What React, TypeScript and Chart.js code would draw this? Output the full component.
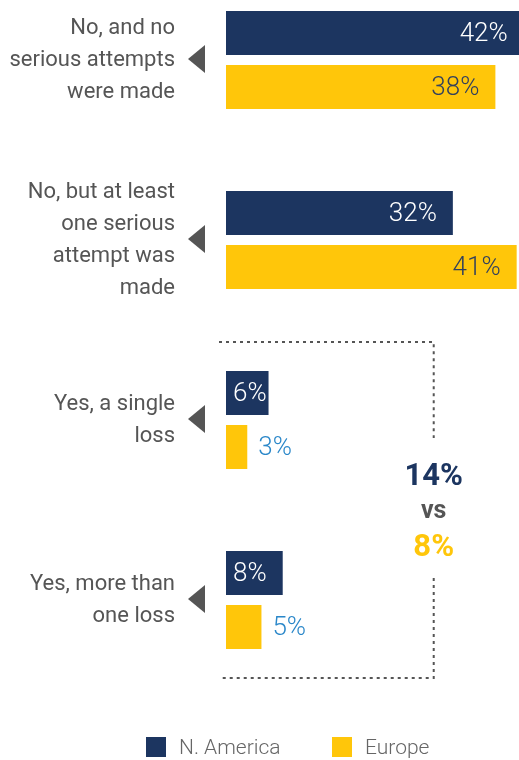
import React, { useEffect, useRef } from "react";
import { Chart, registerables } from "chart.js";

Chart.register(...registerables);

const categories: string[][] = [
  ["No, and no", "serious attempts", "were made"],
  ["No, but at least", "one serious", "attempt was", "made"],
  ["Yes, a single", "loss"],
  ["Yes, more than", "one loss"],
];
const seriesNames = ["N. America", "Europe"];
const northAmerica = [42, 32, 6, 8];
const europe = [38, 41, 3, 5];
const totalLossNA = "14%";
const totalLossEU = "8%";

const NAVY = "#1c3560";
const YELLOW = "#ffc60a";
const GRAY = "#555555";
const BLUE = "#2a87c9";
const FONT = "Roboto, 'Noto Sans', sans-serif";

const decorPlugin = {
  id: "decor",
  afterDatasetsDraw(chart: any) {
    const ctx = chart.ctx;
    const xs = chart.scales.x;
    const ys = chart.scales.y;
    const area = chart.chartArea;
    ctx.save();
    // triangles pointing at the bars
    ctx.fillStyle = GRAY;
    categories.forEach((_, i) => {
      const cy = ys.getPixelForValue(i) - 1;
      const right = area.left - 21;
      ctx.beginPath();
      ctx.moveTo(right, cy - 14);
      ctx.lineTo(right, cy + 14);
      ctx.lineTo(right - 17, cy);
      ctx.closePath();
      ctx.fill();
    });
    // value labels
    chart.data.datasets.forEach((ds: any, di: number) => {
      const meta = chart.getDatasetMeta(di);
      meta.data.forEach((bar: any, i: number) => {
        const v = ds.data[i];
        const txt = v + "%";
        const w = bar.x - bar.base;
        ctx.font = `300 26px ${FONT}`;
        ctx.textBaseline = "middle";
        const y = bar.y + 1.5;
        if (w > 100) {
          ctx.textAlign = "right";
          ctx.fillStyle = di === 0 ? "#ffffff" : "#33415c";
          ctx.fillText(txt, bar.x - 16, y);
        } else if (di === 0) {
          ctx.textAlign = "left";
          ctx.fillStyle = "#ffffff";
          ctx.fillText(txt, bar.base + 7, y);
        } else {
          ctx.textAlign = "left";
          ctx.fillStyle = BLUE;
          ctx.fillText(txt, bar.x + 11, y);
        }
      });
    });
    // dotted bracket
    const bx = xs.getPixelForValue(29.3);
    const left = area.left - 7;
    const top = ys.getPixelForValue(2) - 78;
    const bottom = ys.getPixelForValue(3) + 78;
    ctx.strokeStyle = GRAY;
    ctx.lineWidth = 2;
    ctx.setLineDash([3, 4]);
    ctx.beginPath();
    ctx.moveTo(left, top);
    ctx.lineTo(bx, top);
    ctx.lineTo(bx, top + 96);
    ctx.moveTo(bx, bottom - 100);
    ctx.lineTo(bx, bottom);
    ctx.lineTo(left, bottom);
    ctx.stroke();
    ctx.setLineDash([]);
    // totals
    const midY = (top + bottom) / 2;
    ctx.textAlign = "center";
    ctx.textBaseline = "middle";
    ctx.font = `700 31px ${FONT}`;
    ctx.fillStyle = NAVY;
    ctx.fillText(totalLossNA, bx, midY - 33);
    ctx.font = `700 25px ${FONT}`;
    ctx.fillStyle = GRAY;
    ctx.fillText("vs", bx, midY + 2);
    ctx.font = `700 31px ${FONT}`;
    ctx.fillStyle = YELLOW;
    ctx.fillText(totalLossEU, bx, midY + 38);
    // legend
    const legendY = chart.height - 13;
    const items = [
      { x: 146, color: NAVY, label: chart.data.datasets[0].label },
      { x: 332, color: YELLOW, label: chart.data.datasets[1].label },
    ];
    ctx.font = `300 21px ${FONT}`;
    ctx.textAlign = "left";
    items.forEach((it) => {
      ctx.fillStyle = it.color;
      ctx.fillRect(it.x, legendY - 10, 20, 20);
      ctx.fillStyle = "#666666";
      ctx.fillText(it.label, it.x + 33, legendY + 1.5);
    });
    ctx.restore();
  },
};

export default function App() {
  const ref = useRef<HTMLCanvasElement>(null);
  useEffect(() => {
    if (!ref.current) return;
    const chart = new Chart(ref.current, {
      type: "bar",
      data: {
        labels: categories,
        datasets: [
          {
            label: seriesNames[0],
            data: northAmerica,
            backgroundColor: NAVY,
            categoryPercentage: 0.6,
            barPercentage: 0.815,
            clip: false,
          } as any,
          {
            label: seriesNames[1],
            data: europe,
            backgroundColor: YELLOW,
            categoryPercentage: 0.6,
            barPercentage: 0.815,
            clip: false,
          } as any,
        ],
      },
      options: {
        indexAxis: "y",
        responsive: false,
        maintainAspectRatio: false,
        animation: false,
        events: [],
        layout: { padding: { top: 60, bottom: 160, left: 0, right: 0 } },
        plugins: {
          legend: { display: false },
          tooltip: { enabled: false },
        },
        scales: {
          x: { display: false, min: 0, max: 41.33 },
          y: {
            type: "category",
            offset: false,
            grid: { display: false, drawTicks: false },
            border: { display: false },
            ticks: {
              padding: 51,
              color: GRAY,
              font: { family: FONT, size: 22, weight: 400, lineHeight: 32 / 22 },
            },
            afterFit: (scale: any) => {
              scale.width = 226;
              scale.paddingTop = 0;
              scale.paddingBottom = 0;
            },
          },
        },
      },
      plugins: [decorPlugin],
    });
    return () => chart.destroy();
  }, []);
  return (
    <div style={{ position: "absolute", left: 0, top: 0, width: 519, height: 760 }}>
      <canvas ref={ref} width={519} height={760} style={{ width: 519, height: 760, display: "block" }} />
    </div>
  );
}
